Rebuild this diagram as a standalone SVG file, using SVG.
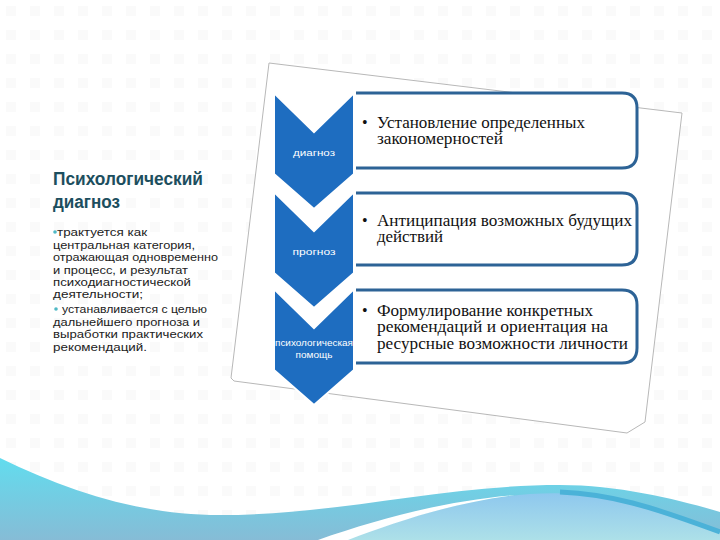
<svg xmlns="http://www.w3.org/2000/svg" width="720" height="540" viewBox="0 0 720 540">
  <defs>
    <pattern id="dots" x="0" y="0" width="24" height="24" patternUnits="userSpaceOnUse">
      <rect x="6" y="6" width="10" height="10" fill="#fafafa"/>
    </pattern>
    <linearGradient id="waveBack" x1="0" y1="0" x2="0" y2="1">
      <stop offset="0" stop-color="#62dcee"/>
      <stop offset="1" stop-color="#86bcd6"/>
    </linearGradient>
    <linearGradient id="waveFront" x1="0" y1="0" x2="0" y2="1">
      <stop offset="0" stop-color="#8ec8ee"/>
      <stop offset="1" stop-color="#ade0e8"/>
    </linearGradient>
    <path id="chev" d="M0,0 L40,39 L80,0 L80,81 L40,116 L0,81 Z"/>
  </defs>
  <style>
    .chev { fill: #1e6dc0; stroke: #ffffff; stroke-width: 2; }
    .lbl { font-family: "Liberation Sans", Arial, sans-serif; font-size: 9px; fill: #ffffff; text-anchor: middle; }
    .boxfill { fill: #ffffff; }
    .boxline { fill: none; stroke: #2d6396; stroke-width: 3; }
    .btxt { font-family: "Liberation Serif", "DejaVu Serif", serif; font-size: 16px; fill: #111111; }
    .body { font-family: "Liberation Sans", Arial, sans-serif; font-size: 11.5px; fill: #222222; }
    .dot { fill: #4fb8c4; }
    .title { font-family: "Liberation Sans", Arial, sans-serif; font-size: 18px; font-weight: bold; fill: #1c4e5e; }
  </style>

  <rect width="720" height="540" fill="#ffffff"/>
  <rect width="720" height="540" fill="url(#dots)"/>

  <!-- bottom waves -->
  <g id="waves">
    <path d="M0,458 C70,492 140,515 220,515 C340,515 440,485 560,485 C620,485 680,500 720,512 L720,540 L0,540 Z" fill="url(#waveBack)"/>
    <path d="M345,540 C400,520 460,500 530,494 C575,491 610,496 650,508 C685,518 705,526 720,531 L720,540 Z" fill="url(#waveFront)"/>
    <path d="M560,492 C610,494 650,506 720,532" fill="none" stroke="#4bb2d8" stroke-width="5"/>
    <path d="M318,540 C380,518 450,500 515,495 C450,503 390,524 348,540 Z" fill="#ffffff"/>
  </g>

  <!-- frame -->
  <g id="frame">
    <polygon points="269,63 682,113 645,422 627,433 234,381 231,378" fill="#ffffff" stroke="#b8b8b8" stroke-width="1"/>
  </g>

  <!-- left text block -->
  <g id="left-text">
    <text class="title" x="53" y="185" textLength="150" lengthAdjust="spacingAndGlyphs">Психологический</text>
    <text class="title" x="53" y="208" textLength="67" lengthAdjust="spacingAndGlyphs">диагноз</text>
    <circle class="dot" cx="55" cy="232" r="1.8"/>
    <text class="body" x="57" y="236" textLength="90" lengthAdjust="spacingAndGlyphs">трактуется как</text>
    <text class="body" x="53" y="249" textLength="142" lengthAdjust="spacingAndGlyphs">центральная категория,</text>
    <text class="body" x="53" y="261" textLength="165" lengthAdjust="spacingAndGlyphs">отражающая одновременно</text>
    <text class="body" x="53" y="274" textLength="135" lengthAdjust="spacingAndGlyphs">и процесс, и результат</text>
    <text class="body" x="53" y="286" textLength="138" lengthAdjust="spacingAndGlyphs">психодиагностической</text>
    <text class="body" x="53" y="298" textLength="90" lengthAdjust="spacingAndGlyphs">деятельности;</text>
    <circle class="dot" cx="56" cy="309" r="1.8"/>
    <text class="body" x="62" y="313" textLength="145" lengthAdjust="spacingAndGlyphs">устанавливается с целью</text>
    <text class="body" x="53" y="326" textLength="147" lengthAdjust="spacingAndGlyphs">дальнейшего прогноза и</text>
    <text class="body" x="53" y="338" textLength="150" lengthAdjust="spacingAndGlyphs">выработки практических</text>
    <text class="body" x="53" y="351" textLength="94" lengthAdjust="spacingAndGlyphs">рекомендаций.</text>
  </g>

  <!-- connectors: none in this diagram -->
  <g id="connectors"></g>

  <!-- node 1 -->
  <g id="node-diagnoz">
    <use href="#chev" class="chev" x="274" y="93"/>
    <text class="lbl" x="314" y="156" textLength="42" lengthAdjust="spacingAndGlyphs">диагноз</text>
    <path class="boxfill" d="M356,93 H622 Q637,93 637,108 V153 Q637,168 622,168 H356 Z"/>
    <path class="boxline" d="M356,93 H622 Q637,93 637,108 V153 Q637,168 622,168 H356"/>
    <text class="btxt" x="362" y="128">•</text>
    <text class="btxt" x="377" y="128" textLength="208" lengthAdjust="spacingAndGlyphs">Установление определенных</text>
    <text class="btxt" x="377" y="144" textLength="126" lengthAdjust="spacingAndGlyphs">закономерностей</text>
  </g>

  <!-- node 2 -->
  <g id="node-prognoz">
    <use href="#chev" class="chev" x="274" y="192"/>
    <text class="lbl" x="314" y="255" textLength="43" lengthAdjust="spacingAndGlyphs">прогноз</text>
    <path class="boxfill" d="M356,193 H622 Q637,193 637,208 V250 Q637,265 622,265 H356 Z"/>
    <path class="boxline" d="M356,193 H622 Q637,193 637,208 V250 Q637,265 622,265 H356"/>
    <text class="btxt" x="362" y="226">•</text>
    <text class="btxt" x="377" y="226" textLength="255" lengthAdjust="spacingAndGlyphs">Антиципация возможных будущих</text>
    <text class="btxt" x="377" y="242" textLength="66" lengthAdjust="spacingAndGlyphs">действий</text>
  </g>

  <!-- node 3 -->
  <g id="node-pomosch">
    <use href="#chev" class="chev" x="274" y="289"/>
    <text class="lbl" x="314" y="346" textLength="78" lengthAdjust="spacingAndGlyphs">психологическая</text>
    <text class="lbl" x="314" y="358" textLength="37" lengthAdjust="spacingAndGlyphs">помощь</text>
    <path class="boxfill" d="M356,290 H622 Q637,290 637,305 V348 Q637,363 622,363 H356 Z"/>
    <path class="boxline" d="M356,290 H622 Q637,290 637,305 V348 Q637,363 622,363 H356"/>
    <text class="btxt" x="362" y="316">•</text>
    <text class="btxt" x="377" y="316" textLength="216" lengthAdjust="spacingAndGlyphs">Формулирование конкретных</text>
    <text class="btxt" x="377" y="332" textLength="231" lengthAdjust="spacingAndGlyphs">рекомендаций и ориентация на</text>
    <text class="btxt" x="377" y="349" textLength="251" lengthAdjust="spacingAndGlyphs">ресурсные возможности личности</text>
  </g>
</svg>
